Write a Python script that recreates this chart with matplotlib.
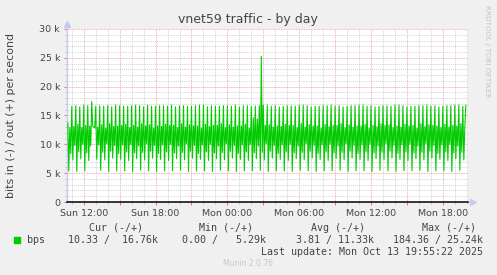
import numpy as np
import matplotlib.pyplot as plt

# outgoing traffic, kbit/s, one sample every 5 minutes from Sun 10:40
out_kbps = [
    13.7, 5.4, 12.9, 8.4, 16.6, 7.3, 13.1, 9.8,
    16.7, 5.3, 13.5, 8.7, 16.5, 7.5, 12.9, 10.0,
    16.8, 5.4, 13.3, 8.5, 16.7, 7.2, 13.2, 9.7,
    17.4, 13.2, 13.0, 12.8, 16.6, 7.4, 13.0, 9.9,
    16.7, 5.5, 13.4, 8.6, 16.6, 7.3, 12.8, 10.1,
    16.7, 5.3, 13.6, 8.8, 16.5, 7.6, 13.1, 9.8,
    16.8, 5.4, 13.2, 8.4, 16.7, 7.4, 13.3, 9.9,
    16.6, 5.4, 13.5, 8.7, 16.6, 7.2, 12.9, 10.0,
    16.7, 5.3, 13.3, 8.5, 16.8, 7.5, 13.0, 9.7,
    16.7, 5.5, 13.6, 8.6, 16.5, 7.3, 13.2, 10.1,
    16.8, 5.4, 13.4, 8.8, 16.6, 7.6, 12.8, 9.8,
    16.6, 5.3, 13.2, 8.4, 16.7, 7.4, 13.1, 9.9,
    16.7, 5.4, 13.5, 8.7, 16.6, 7.2, 13.3, 10.0,
    16.8, 5.4, 13.3, 8.5, 16.5, 7.5, 12.9, 9.7,
    16.7, 5.5, 13.6, 8.6, 16.7, 7.3, 13.0, 10.1,
    16.6, 5.3, 13.4, 8.8, 16.6, 7.6, 13.2, 9.8,
    16.7, 5.4, 13.2, 8.4, 16.8, 7.4, 12.8, 9.9,
    16.8, 5.4, 13.5, 8.7, 16.5, 7.2, 13.1, 10.0,
    16.7, 5.3, 13.3, 8.5, 16.6, 7.5, 13.3, 9.7,
    16.6, 5.5, 13.6, 8.6, 16.7, 7.3, 12.9, 10.1,
    16.7, 5.4, 13.4, 8.8, 16.6, 7.6, 13.0, 9.8,
    16.8, 5.3, 13.2, 8.4, 16.5, 7.4, 13.2, 9.9,
    16.7, 5.4, 13.5, 8.7, 16.7, 7.2, 12.8, 10.0,
    16.6, 5.4, 14.6, 8.5, 16.6, 7.5, 14.4, 9.7,
    16.7, 5.5, 25.24, 8.6, 16.8, 7.3, 13.3, 10.1,
    16.8, 5.3, 13.4, 8.8, 16.6, 7.6, 13.0, 9.8,
    16.7, 5.4, 13.2, 8.4, 16.5, 7.4, 13.1, 9.9,
    16.6, 5.4, 13.5, 8.7, 16.7, 7.2, 13.3, 10.0,
    16.7, 5.3, 13.3, 8.5, 16.6, 7.5, 12.9, 9.7,
    16.8, 5.5, 13.6, 8.6, 16.8, 7.3, 13.0, 10.1,
    16.7, 5.4, 13.4, 8.8, 16.5, 7.6, 13.2, 9.8,
    16.6, 5.3, 13.2, 8.4, 16.6, 7.4, 12.8, 9.9,
    16.7, 5.4, 13.5, 8.7, 16.7, 7.2, 13.1, 10.0,
    16.8, 5.4, 13.3, 8.5, 16.6, 7.5, 13.3, 9.7,
    16.7, 5.5, 13.6, 8.6, 16.5, 7.3, 12.9, 10.1,
    16.6, 5.3, 13.4, 8.8, 16.7, 7.6, 13.0, 9.8,
    16.7, 5.4, 13.2, 8.4, 16.8, 7.4, 13.2, 9.9,
    16.8, 5.4, 13.5, 8.7, 16.6, 7.2, 12.8, 10.0,
    16.7, 5.3, 13.3, 8.5, 16.5, 7.5, 13.1, 9.7,
    16.6, 5.5, 13.6, 8.6, 16.7, 7.3, 13.3, 10.1,
    16.7, 5.4, 13.4, 8.8, 16.6, 7.6, 12.9, 9.8,
    16.8, 5.3, 13.2, 8.4, 16.8, 7.4, 13.0, 9.9,
    16.7, 5.4, 13.5, 8.7, 16.5, 7.2, 13.2, 10.0,
    16.6, 5.4, 13.3, 8.5, 16.6, 7.5, 12.8, 9.7,
    16.7, 5.5, 13.6, 8.6, 16.7, 7.3, 13.1, 10.1,
    16.8, 5.3, 13.4, 8.8, 16.6, 7.6, 13.3, 9.8,
    16.7, 5.4, 13.2, 8.4, 16.5, 7.4, 12.9, 9.9,
    16.6, 5.4, 13.5, 8.7, 16.7, 7.2, 13.0, 10.0,
    16.7, 5.3, 13.3, 8.5, 16.8, 7.5, 13.2, 9.7,
    16.8, 5.5, 13.6, 8.6, 16.6, 7.3, 12.9, 16.76,
]
start_hour = 10 + 40 / 60   # hours since Sun 00:00
step_min = 5

x_ticks = [12, 18, 24, 30, 36, 42]
x_labels = ["Sun 12:00", "Sun 18:00", "Mon 00:00", "Mon 06:00", "Mon 12:00", "Mon 18:00"]
y_ticks = [0, 5000, 10000, 15000, 20000, 25000, 30000]
y_labels = ["0", "5 k", "10 k", "15 k", "20 k", "25 k", "30 k"]

legend_heads = ["Cur (-/+)", "Min (-/+)", "Avg (-/+)", "Max (-/+)"]
legend_vals = ["10.33 /  16.76k", "0.00 /   5.29k", "3.81 / 11.33k", "184.36 / 25.24k"]

hours = start_hour + np.arange(len(out_kbps)) * step_min / 60
out_bps = np.array(out_kbps) * 1000

W, H = 497, 275
fig = plt.figure(figsize=(W / 100, H / 100), dpi=100, facecolor="#f0f0f0")
ax = fig.add_axes([67 / W, 1 - 202 / H, 401 / W, 173 / H])
ax.set_facecolor("white")

txt = "#444444"
axis_blue = "#c4cbf2"

ax.plot(hours, out_bps, color="#00cc00", lw=0.8, zorder=3)

ax.set_xlim(10.6, 44.1)
ax.set_ylim(0, 30000)

# grid: 1 h / 1 k minor, 3 h / 5 k major
major_x = np.arange(12, 44.1, 3)
ax.set_xticks(major_x)
ax.set_xticklabels([x_labels[x_ticks.index(int(t))] if int(t) in x_ticks else "" for t in major_x])
ax.set_xticks(np.arange(11, 44.1, 1), minor=True)
ax.set_yticks(y_ticks)
ax.set_yticklabels(y_labels)
ax.set_yticks(np.arange(0, 30001, 1000), minor=True)
ax.grid(which="minor", color="#d4d4d4", lw=0.6, linestyle=(0, (1.5, 1)))
ax.grid(which="major", color="#eb9a9a", lw=0.6, linestyle=(0, (1, 1)))
ax.set_axisbelow(True)

ax.tick_params(which="major", axis="x", length=2, color="#e08080", labelsize=6.8, labelcolor=txt, pad=3)
ax.tick_params(which="major", axis="y", length=2, color="#e08080", labelsize=6.8, labelcolor=txt, pad=3)
ax.tick_params(which="minor", length=1.5, color="#c0c0c0")
for s in ax.spines.values():
    s.set_visible(False)

# axis arrows
ax.plot([0, 0], [0, 1.02], transform=ax.transAxes, color=axis_blue, lw=1, clip_on=False, zorder=2)
ax.plot(0, 1.03, marker="^", ms=4, color=axis_blue, transform=ax.transAxes, clip_on=False)
ax.plot([1.0, 1.01], [0, 0], transform=ax.transAxes, color=axis_blue, lw=1, clip_on=False, zorder=2)
ax.plot(1.013, 0, marker=">", ms=4, color=axis_blue, transform=ax.transAxes, clip_on=False)
ax.plot([0, 1], [0, 0], transform=ax.transAxes, color="black", lw=1.1, clip_on=False, zorder=6)

fig.text(248 / W, 1 - 20 / H, "vnet59 traffic - by day", ha="center", va="center", fontsize=9, color=txt)
fig.text(11 / W, 1 - 115 / H, "bits in (-) / out (+) per second", rotation=90,
         ha="center", va="center", fontsize=7.9, color=txt)
fig.text(487 / W, 1 - 5 / H, "RRDTOOL / TOBI OETIKER", rotation=270, ha="center", va="top",
         fontsize=5.2, color="#c4c4c4")

# legend
mono = "DejaVu Sans Mono"
fig.patches.append(plt.Rectangle((14 / W, 1 - 243 / H), 6 / W, 6 / H, color="#00cc00",
                                 transform=fig.transFigure, figure=fig))
fig.text(27 / W, 1 - 240 / H, "bps", ha="left", va="center", fontsize=7.2, family=mono, color=txt)
for head, val, hx, vx in zip(legend_heads, legend_vals, [142.7, 253.3, 364.7, 476], [157.7, 266, 374.3, 482.7]):
    fig.text(hx / W, 1 - 228 / H, head, ha="right", va="center", fontsize=7.2, family=mono, color=txt)
    fig.text(vx / W, 1 - 240 / H, val, ha="right", va="center", fontsize=7.2, family=mono, color=txt)
fig.text(482.7 / W, 1 - 252 / H, "Last update: Mon Oct 13 19:55:22 2025", ha="right", va="center",
         fontsize=7.2, family=mono, color=txt)
fig.text(248 / W, 1 - 264 / H, "Munin 2.0.76", ha="center", va="center", fontsize=5.5, color="#c8c8c8")

fig.savefig("out.png", dpi=100, facecolor=fig.get_facecolor())
